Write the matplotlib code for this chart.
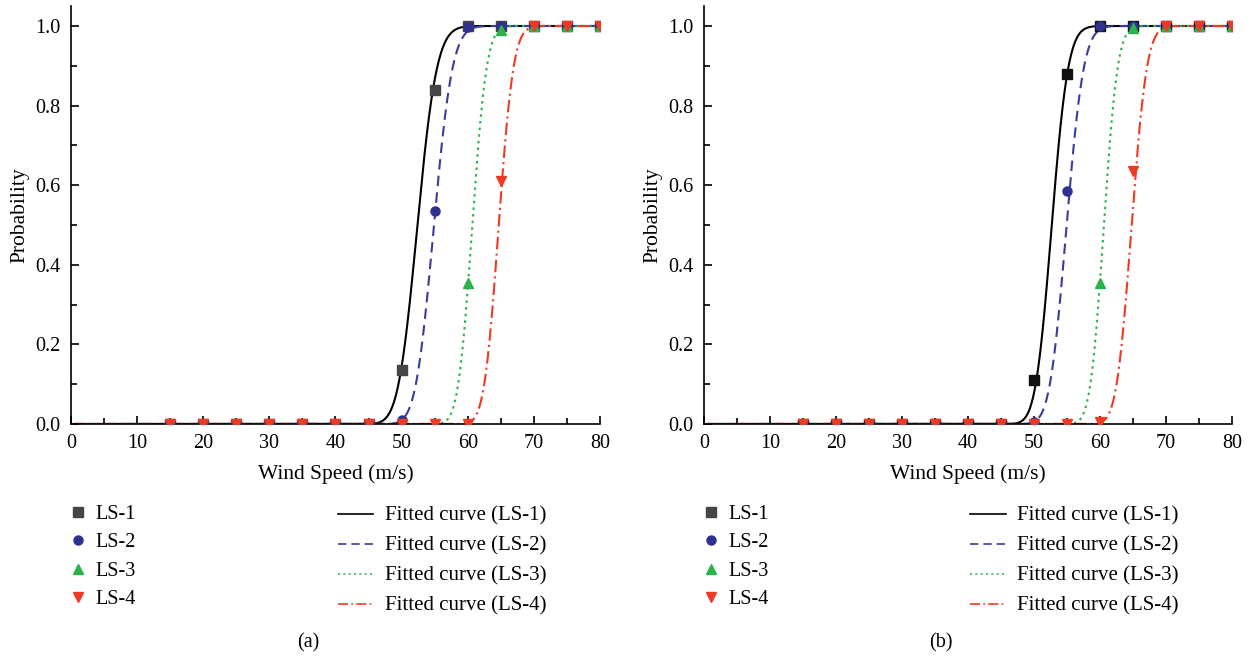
import math
import numpy as np
import matplotlib
matplotlib.use('Agg')
from matplotlib import pyplot as plt
from matplotlib.lines import Line2D
from matplotlib.ticker import MultipleLocator

plt.rcParams['font.family'] = ['Liberation Serif', 'DejaVu Serif']

wind_speed = [15, 20, 25, 30, 35, 40, 45, 50, 55, 60, 65, 70, 75, 80]
labels = ['LS-1', 'LS-2', 'LS-3', 'LS-4']

# observed probabilities, panel (a)
prob_a = [
    [0, 0, 0, 0, 0, 0, 0, 0.135, 0.84, 1.0, 1.0, 1.0, 1.0, 1.0],
    [0, 0, 0, 0, 0, 0, 0, 0.01, 0.535, 0.998, 1.0, 1.0, 1.0, 1.0],
    [0, 0, 0, 0, 0, 0, 0, 0, 0.0, 0.355, 0.99, 1.0, 1.0, 1.0],
    [0, 0, 0, 0, 0, 0, 0, 0, 0, 0.0, 0.61, 1.0, 1.0, 1.0],
]
# observed probabilities, panel (b)
prob_b = [
    [0, 0, 0, 0, 0, 0, 0, 0.11, 0.88, 1.0, 1.0, 1.0, 1.0, 1.0],
    [0, 0, 0, 0, 0, 0, 0, 0.005, 0.585, 1.0, 1.0, 1.0, 1.0, 1.0],
    [0, 0, 0, 0, 0, 0, 0, 0, 0.0, 0.355, 0.995, 1.0, 1.0, 1.0],
    [0, 0, 0, 0, 0, 0, 0, 0, 0, 0.005, 0.635, 1.0, 1.0, 1.0],
]

# fitted lognormal curves: median (m/s) and dispersion
median_a = [52.4, 54.9, 60.7, 64.7]
beta_a = [0.044, 0.040, 0.028, 0.027]
median_b = [52.7, 54.95, 60.6, 64.8]
beta_b = [0.037, 0.037, 0.027, 0.028]

marker_colours_a = ['#454545', '#2e3192', '#2bb24c', '#ee3a23']
marker_colours_b = ['#111111', '#2e3192', '#2bb24c', '#ee3a23']
legend_marker_colours = ['#454545', '#2e3192', '#2bb24c', '#ee3a23']
line_colours = ['black', '#3b3b9c', '#2bb24c', '#ee3a23']
markers = ['s', 'o', '^', 'v']
line_styles = ['-', (0, (5, 3)), (0, (1.2, 2)), (0, (6, 2, 1, 2))]

erf = np.vectorize(math.erf)


def lognormal_cdf(x, median, beta):
    return 0.5 * (1 + erf(np.log(x / median) / (beta * math.sqrt(2))))


def draw_panel(axis, probs, medians, betas, marker_colours, caption):
    xs = np.linspace(0.5, 80, 800)
    for j in range(4):
        axis.plot(xs, lognormal_cdf(xs, medians[j], betas[j]), color=line_colours[j],
                  linestyle=line_styles[j], linewidth=1.5, zorder=2)
    for j in range(4):
        axis.plot(wind_speed, probs[j], linestyle='none', marker=markers[j], markersize=6.5,
                  color=marker_colours[j], zorder=3)
    axis.set_xlim(0, 80)
    axis.set_ylim(0, 1.05)
    axis.xaxis.set_major_locator(MultipleLocator(10))
    axis.xaxis.set_minor_locator(MultipleLocator(5))
    axis.yaxis.set_major_locator(MultipleLocator(0.2))
    axis.yaxis.set_minor_locator(MultipleLocator(0.1))
    axis.yaxis.set_major_formatter(matplotlib.ticker.FormatStrFormatter('%.1f'))
    axis.spines['top'].set_visible(False)
    axis.spines['right'].set_visible(False)
    for s in ['left', 'bottom']:
        axis.spines[s].set_linewidth(1.2)
    axis.tick_params(which='both', direction='in', labelsize=14.5, width=1.2, pad=7.5)
    axis.tick_params(which='major', length=6)
    axis.tick_params(which='minor', length=4)
    axis.set_xlabel('Wind Speed (m/s)', fontsize=15.5, labelpad=8)
    axis.set_ylabel('Probability', fontsize=15.5, labelpad=4)

    marker_handles = [Line2D([], [], linestyle='none', marker=markers[j], markersize=6.5,
                             color=legend_marker_colours[j]) for j in range(4)]
    leg1 = axis.legend(marker_handles, labels, loc='upper left', bbox_to_anchor=(-0.021, -0.175),
                       frameon=False, fontsize=14.5, handlelength=1.0, handletextpad=0.35,
                       labelspacing=0.45, borderaxespad=0)
    axis.add_artist(leg1)
    line_handles = [Line2D([], [], color=line_colours[j], linestyle=line_styles[j], linewidth=1.2)
                    for j in range(4)]
    line_labels = ['Fitted curve (%s)' % l for l in labels]
    axis.legend(line_handles, line_labels, loc='upper left', bbox_to_anchor=(0.489, -0.177),
                frameon=False, fontsize=15, handlelength=1.7, handletextpad=0.55,
                labelspacing=0.5, borderaxespad=0)
    axis.text(0.448, -0.524, caption, transform=axis.transAxes, ha='center', va='center',
              fontsize=14.5)


figure = plt.figure(figsize=(12.58, 6.56), dpi=100)
axis_a = figure.add_axes([0.0564, 0.3537, 0.4205, 0.637])
axis_b = figure.add_axes([0.5596, 0.3537, 0.4197, 0.637])
draw_panel(axis_a, prob_a, median_a, beta_a, marker_colours_a, '(a)')
draw_panel(axis_b, prob_b, median_b, beta_b, marker_colours_b, '(b)')

plt.savefig('out.png', dpi=100)
